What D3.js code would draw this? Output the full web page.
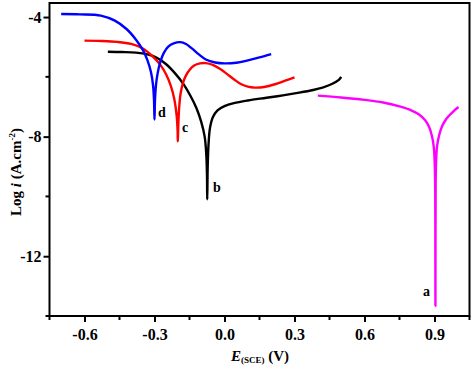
<!DOCTYPE html>
<html><head><meta charset="utf-8">
<script src="https://cdn.jsdelivr.net/npm/d3@7"></script>
<style>body{margin:0;background:#fff}svg{display:block}</style>
</head><body><svg id="c" width="474" height="371"></svg>
<script>
const xMajorTicks = [-0.6, -0.3, 0.0, 0.3, 0.6, 0.9];
const xMinorTicks = [-0.75, -0.45, -0.15, 0.15, 0.45, 0.75, 1.05];
const yMajorTicks = [-4, -8, -12];
const yMinorTicks = [-6, -10, -14];

const curveA_E = [0.40, 0.50, 0.60, 0.68, 0.75, 0.80, 0.835, 0.86, 0.877, 0.889, 0.897, 0.901, 0.903, 0.904, 0.905, 0.907, 0.911, 0.920, 0.932, 0.946, 0.961, 0.980, 1.003];
const curveA_I = [-6.63, -6.69, -6.77, -6.86, -6.99, -7.12, -7.27, -7.45, -7.68, -7.98, -8.35, -8.9, -9.8, -13.66, -9.6, -8.8, -8.32, -7.95, -7.66, -7.46, -7.31, -7.16, -7.01];

const curveB_E = [-0.50, -0.44, -0.38, -0.33, -0.29, -0.25, -0.21, -0.175, -0.145, -0.12, -0.10, -0.085, -0.078, -0.075, -0.074, -0.072, -0.068, -0.062, -0.05, -0.03, 0.0, 0.04, 0.10, 0.18, 0.25, 0.32, 0.38, 0.42, 0.46, 0.49, 0.50];
const curveB_I = [-5.16, -5.17, -5.19, -5.25, -5.36, -5.58, -5.9, -6.25, -6.65, -7.05, -7.5, -8.0, -8.6, -9.3, -10.1, -9.0, -8.2, -7.7, -7.35, -7.12, -6.98, -6.88, -6.79, -6.70, -6.62, -6.53, -6.44, -6.36, -6.24, -6.1, -6.0];

const curveC_E = [-0.60, -0.53, -0.46, -0.40, -0.35, -0.31, -0.275, -0.25, -0.23, -0.215, -0.205, -0.201, -0.200, -0.198, -0.194, -0.188, -0.178, -0.165, -0.15, -0.13, -0.105, -0.08, -0.05, -0.02, 0.01, 0.04, 0.07, 0.10, 0.13, 0.17, 0.22, 0.26, 0.30];
const curveC_I = [-4.79, -4.80, -4.83, -4.9, -5.05, -5.3, -5.6, -5.92, -6.3, -6.75, -7.3, -7.8, -8.16, -7.6, -7.0, -6.55, -6.2, -5.95, -5.77, -5.62, -5.55, -5.54, -5.6, -5.73, -5.9, -6.08, -6.24, -6.33, -6.36, -6.34, -6.24, -6.13, -6.02];

const curveD_E = [-0.70, -0.62, -0.53, -0.47, -0.42, -0.38, -0.35, -0.33, -0.315, -0.306, -0.302, -0.300, -0.298, -0.294, -0.287, -0.275, -0.26, -0.24, -0.215, -0.19, -0.165, -0.14, -0.11, -0.08, -0.04, 0.0, 0.05, 0.10, 0.15, 0.20];
const curveD_I = [-3.90, -3.91, -3.95, -4.12, -4.4, -4.75, -5.1, -5.45, -5.85, -6.3, -6.8, -7.43, -6.8, -6.3, -5.9, -5.5, -5.2, -4.98, -4.87, -4.84, -4.9, -5.05, -5.25, -5.42, -5.52, -5.55, -5.53, -5.45, -5.35, -5.24];

const seriesNames = ["a", "b", "c", "d"];
const seriesColors = ["#ff00ff", "#000000", "#ff0000", "#0000ff"];
const seriesLabelPos = [[0.851, -13.33], [-0.049, -9.85], [-0.182, -7.845], [-0.285, -7.343]];

const svg = d3.select("#c");
const x = d3.scaleLinear().domain([-0.75, 1.05]).range([49.5, 469.5]);
const y = d3.scaleLinear().domain([-14, -3.53]).range([316, 3]);

const font = "'Liberation Serif','Times New Roman',serif";

const series = [
  curveA_E.map((e, i) => [e, curveA_I[i]]),
  curveB_E.map((e, i) => [e, curveB_I[i]]),
  curveC_E.map((e, i) => [e, curveC_I[i]]),
  curveD_E.map((e, i) => [e, curveD_I[i]])
];

const line = d3.line().x(d => x(d[0])).y(d => y(d[1])).curve(d3.curveCatmullRom.alpha(0.5));
[1, 2, 3, 0].forEach(k => {
  svg.append("path").attr("d", line(series[k])).attr("fill", "none")
    .attr("stroke", seriesColors[k]).attr("stroke-width", 2.4)
    .attr("stroke-linejoin", "round").attr("stroke-linecap", "butt");
});

seriesNames.forEach((n, k) => {
  svg.append("text").attr("x", x(seriesLabelPos[k][0])).attr("y", y(seriesLabelPos[k][1]))
    .attr("font-family", font).attr("font-weight", "bold").attr("font-size", 14)
    .attr("fill", "#000").text(n);
});

svg.append("rect").attr("x", 49.5).attr("y", 3).attr("width", 420).attr("height", 313)
  .attr("fill", "none").attr("stroke", "#000").attr("stroke-width", 2);

const gx = svg.append("g").attr("transform", "translate(0,316)");
gx.call(d3.axisBottom(x).tickValues(xMajorTicks).tickSize(6));
gx.call(g => g.select(".domain").remove());
gx.selectAll(".tick line").attr("stroke-width", 2);
gx.selectAll(".tick text").attr("font-family", font).attr("font-weight", "bold").attr("font-size", 16).attr("dy", "0.95em")
  .text(d => d3.format(".1f")(d).replace("−", "-"));
xMinorTicks.forEach(v => {
  svg.append("line").attr("x1", x(v)).attr("x2", x(v)).attr("y1", 316).attr("y2", 320)
    .attr("stroke", "#000").attr("stroke-width", 2);
});

const gy = svg.append("g").attr("transform", "translate(49.5,0)");
gy.call(d3.axisLeft(y).tickValues(yMajorTicks).tickSize(6).tickFormat(d => String(d)));
gy.call(g => g.select(".domain").remove());
gy.selectAll(".tick line").attr("stroke-width", 2);
gy.selectAll(".tick text").attr("font-family", font).attr("font-weight", "bold").attr("font-size", 16).attr("x", -8);
yMinorTicks.forEach(v => {
  svg.append("line").attr("x1", 49.5).attr("x2", 45.5).attr("y1", y(v)).attr("y2", y(v))
    .attr("stroke", "#000").attr("stroke-width", 2);
});

const xl = svg.append("text").attr("x", 260).attr("y", 361).attr("text-anchor", "middle")
  .attr("font-family", font).attr("font-weight", "bold").attr("font-size", 15);
xl.append("tspan").attr("font-style", "italic").text("E");
xl.append("tspan").attr("font-size", 9).attr("dy", 2).text("(SCE)");
xl.append("tspan").attr("dy", -2).text(" (V)");

const yl = svg.append("text").attr("transform", "translate(21,172) rotate(-90)").attr("text-anchor", "middle")
  .attr("font-family", font).attr("font-weight", "bold").attr("font-size", 15);
yl.append("tspan").text("Log ");
yl.append("tspan").attr("font-style", "italic").text("i");
yl.append("tspan").text(" (A.cm");
yl.append("tspan").attr("font-size", 9).attr("dy", -6).text("-2");
yl.append("tspan").attr("dy", 6).text(")");
</script></body></html>
